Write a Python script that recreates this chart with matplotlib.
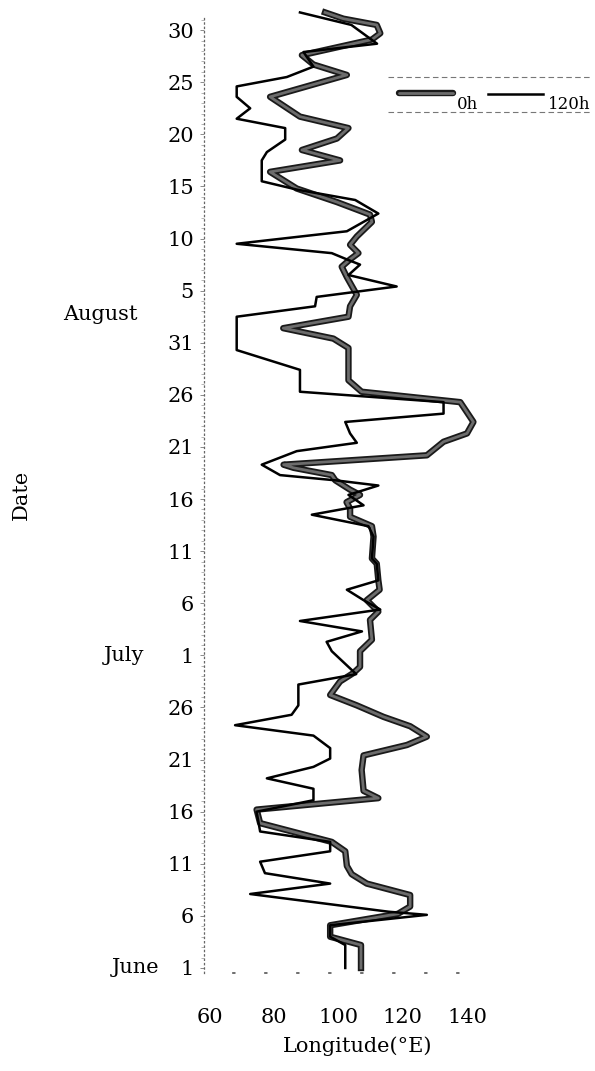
import matplotlib.pyplot as plt
import matplotlib.patheffects as pe
import matplotlib.transforms as mtransforms
from matplotlib.lines import Line2D
from matplotlib.ticker import MultipleLocator

plt.rcParams['font.family'] = ['DejaVu Serif']

# days counted from June 1 (day 0), longitude in degrees E
days_0h = [0, 2.2, 3.0, 4.1, 5.2, 5.9, 7.0, 8.1, 9.0, 9.8, 11.2, 12.1, 13.9, 15.2,
           16.3, 17.0, 19.0, 20.4, 21.4, 22.2, 23.2, 24.1, 25.2, 26.2, 27.5, 28.3,
           28.9, 30.4, 31.5, 33.4, 34.2, 35.3, 36.3, 37.2, 38.8, 39.3, 41.4, 42.4,
           43.3, 44.1, 44.7, 45.4, 45.9, 46.8, 47.3, 48.0, 48.3, 49.2, 50.5, 51.3,
           52.4, 54.3, 55.3, 56.4, 59.5, 60.4, 61.4, 62.5, 63.5, 64.6, 66.3, 67.3,
           68.0, 68.6, 69.4, 70.2, 71.6, 72.3, 73.5, 74.8, 76.4, 77.5, 78.5, 79.6,
           80.6, 81.7, 83.6, 85.7, 86.7, 87.6, 89.1, 89.7, 90.5, 91.1, 91.7]
lon_0h = [107.0, 107.0, 97.4, 97.4, 118.5, 122.3, 122.3, 108.8, 104.1, 102.6, 102.1,
          97.9, 75.6, 74.5, 112.4, 107.8, 107.2, 107.8, 121.3, 127.5, 122.3, 114.0,
          105.7, 97.4, 100.5, 104.6, 106.7, 106.7, 110.4, 109.8, 112.4, 108.8, 112.8,
          112.4, 111.9, 110.4, 110.9, 110.4, 103.6, 103.6, 102.5, 106.7, 103.6, 99.0,
          97.9, 86.0, 82.9, 127.5, 132.7, 140.0, 142.0, 137.9, 107.2, 103.1, 103.1,
          98.4, 82.8, 103.1, 103.6, 105.7, 102.6, 101.0, 103.6, 106.2, 103.6, 105.7,
          110.4, 109.8, 99.5, 87.0, 78.7, 100.5, 88.6, 99.5, 103.1, 88.0, 78.7, 102.6,
          92.2, 88.6, 110.4, 113.0, 111.9, 101.5, 95.8]

days_120h = [0, 2.2, 3.0, 4.1, 5.1, 5.4, 7.1, 8.1, 9.1, 10.2, 11.2, 12.1, 13.1, 15.0,
             16.1, 17.2, 18.2, 19.3, 20.1, 21.1, 22.3, 23.3, 24.3, 25.2, 27.2, 28.2,
             30.4, 31.3, 32.3, 33.3, 34.4, 35.3, 36.3, 37.2, 38.8, 39.3, 41.4, 42.4,
             43.5, 44.4, 45.4, 46.3, 46.8, 47.3, 48.3, 49.6, 50.4, 51.3, 52.4, 53.2,
             54.3, 55.3, 57.4, 59.3, 62.5, 63.5, 64.4, 65.4, 66.5, 67.5, 68.0, 68.6,
             69.5, 70.7, 72.4, 73.7, 74.7, 75.5, 77.5, 78.3, 79.5, 80.6, 81.5, 82.5,
             83.6, 84.6, 85.5, 86.5, 87.9, 88.7, 90.5, 91.7]
lon_120h = [102.1, 102.1, 97.4, 97.4, 127.5, 115.6, 72.5, 97.4, 77.1, 75.6, 97.4,
            97.4, 75.6, 74.5, 92.2, 92.2, 77.7, 92.2, 97.4, 97.4, 92.2, 67.8, 85.4,
            87.5, 87.5, 105.5, 97.9, 96.3, 107.3, 88.0, 113.0, 107.8, 102.6, 112.4,
            111.9, 110.4, 110.9, 109.3, 91.7, 107.8, 103.1, 112.4, 99.0, 81.8, 76.1,
            87.0, 105.7, 103.6, 102.1, 132.7, 132.7, 88.0, 88.0, 68.3, 68.3, 92.7,
            93.2, 118.1, 103.1, 106.7, 102.6, 97.9, 68.3, 102.6, 112.4, 105.2, 87.0,
            76.1, 76.1, 77.7, 83.4, 83.4, 68.3, 72.5, 68.3, 68.3, 83.9, 92.2, 89.1,
            112.0, 104.0, 88.0]

tick_days = list(range(0, 91, 5))
tick_labels = ['1', '6', '11', '16', '21', '26', '1', '6', '11', '16', '21', '26',
               '31', '5', '10', '15', '20', '25', '30']
months = ['June', 'July', 'August']
month_days = [0, 30, 62.7]
month_x = [-0.26, -0.302, -0.39]
lon_ticks = [60, 80, 100, 120, 140]

W, H = 595, 1071
fig = plt.figure(figsize=(W / 100, H / 100), dpi=100)
ax = fig.add_axes([203.6 / W, 1 - 973.2 / H, 263.4 / W, 956.6 / H])

thick_fx = [pe.Stroke(linewidth=4.6, foreground='#1a1a1a'),
            pe.Stroke(linewidth=2.0, foreground='#6c6c6c')]

ax.plot(lon_0h, days_0h, color='#333333', lw=4.6, solid_joinstyle='round',
        path_effects=thick_fx, clip_on=False)
ax.plot(lon_120h, days_120h, color='black', lw=1.8, clip_on=False)

ax.set_xlim(58, 140)
ax.set_ylim(-0.5, 91.3)

for s in ['top', 'right']:
    ax.spines[s].set_visible(False)
ax.spines['left'].set_linestyle((0, (1, 2.5)))
ax.spines['left'].set_color('#666666')
ax.spines['left'].set_linewidth(0.9)
ax.spines['bottom'].set_linestyle((1.8, (1, 18.2)))
ax.spines['bottom'].set_color('#555555')
ax.spines['bottom'].set_linewidth(1.2)

ax.set_yticks(tick_days)
ax.set_yticklabels(tick_labels)
ax.yaxis.set_minor_locator(MultipleLocator(1))
ax.tick_params(axis='y', which='major', length=3, width=0.6, color='#777777',
               labelsize=15, pad=4)
ax.tick_params(axis='y', which='minor', length=2, width=0.5, color='#999999')

ax.set_xticks(lon_ticks)
ax.tick_params(axis='x', length=0, labelsize=15, pad=25)

ax.set_xlabel('Longitude(°E)', fontsize=15)
ax.xaxis.set_label_coords(0.586, -0.066)
ax.set_ylabel('Date', fontsize=15)
ax.yaxis.set_label_coords(-0.655, 0.5)

blend = mtransforms.blended_transform_factory(ax.transAxes, ax.transData)
for m, d, mx in zip(months, month_days, month_x):
    ax.text(mx, d, m, transform=blend, ha='center', va='center', fontsize=15)

# legend drawn by hand, in figure pixels
px = mtransforms.Affine2D().scale(1 / W, -1 / H).translate(0, 1) + fig.transFigure
fig.add_artist(Line2D([388, 592], [77, 77], transform=px, color='#777777',
                      lw=0.8, ls=(0, (5, 3))))
fig.add_artist(Line2D([388, 592], [112, 112], transform=px, color='#777777',
                      lw=0.8, ls=(0, (5, 3))))
fig.add_artist(Line2D([399, 453], [93, 93], transform=px, color='#333333', lw=4.6,
                      solid_capstyle='round', path_effects=thick_fx))
fig.add_artist(Line2D([488, 543], [94, 94], transform=px, color='black', lw=1.8))
fig.text(457, 109, '0h', transform=px, fontsize=12, va='baseline')
fig.text(548, 109, '120h', transform=px, fontsize=12, va='baseline')

fig.savefig('out.png', dpi=100)
